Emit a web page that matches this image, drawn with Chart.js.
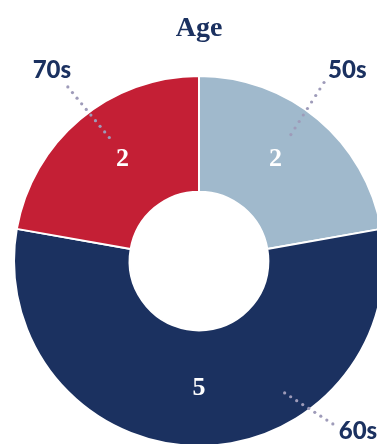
<!DOCTYPE html>
<html lang="en">
<head>
  <meta charset="UTF-8" />
  <title>Age</title>
  <style>
    html, body { margin: 0; padding: 0; background: #fff; overflow: hidden; width: 377px; height: 444px; }
    .wrap { position: absolute; left: 0; top: 0; width: 398px; height: 460px; }
  </style>
</head>
<body>
  <div class="wrap"><canvas id="ageChart"></canvas></div>

  <script src="https://cdn.jsdelivr.net/npm/chart.js@4.4.1/dist/chart.umd.min.js"></script>
  <script>
    const categories = ['50s', '60s', '70s'];
    const counts = [2, 5, 2];
    const sliceColors = ['#a0b9cc', '#1b3160', '#c41f35'];

    // callout leader lines: [angle in degrees from top, radius as share of outer radius]
    const calloutStart = [[36, 0.845], [147, 0.85], [324, 0.825]];
    const calloutEnd = [[35, 1.178], [140.6, 1.14], [323, 1.178]];
    const calloutLabel = [[37.9, 1.305], [137, 1.26], [322.4, 1.303]];
    // small angular nudge of the value inside each slice, degrees
    const valueNudge = [-3, 0, 3];

    const navy = '#1b3160';
    const dotColor = '#9e9bb9';

    function polar(cx, cy, deg, r) {
      const a = deg * Math.PI / 180;
      return { x: cx + r * Math.sin(a), y: cy - r * Math.cos(a) };
    }

    const labelsPlugin = {
      id: 'ageLabels',
      afterDraw(chart) {
        const ctx = chart.ctx;
        const arcs = chart.getDatasetMeta(0).data;
        ctx.save();
        ctx.textAlign = 'center';
        ctx.textBaseline = 'middle';
        arcs.forEach((arc, i) => {
          const R = arc.outerRadius;

          // value inside the ring
          const mid = ((arc.startAngle + arc.endAngle) / 2) * 180 / Math.PI + 90 + valueNudge[i];
          const c = polar(arc.x, arc.y, mid, (arc.innerRadius + R) / 2);
          ctx.fillStyle = '#fff';
          ctx.font = 'bold 26px "Liberation Serif", "Times New Roman", serif';
          ctx.fillText(String(counts[i]), c.x, c.y);

          // dotted leader line
          const p1 = polar(arc.x, arc.y, calloutStart[i][0], R * calloutStart[i][1]);
          const p2 = polar(arc.x, arc.y, calloutEnd[i][0], R * calloutEnd[i][1]);
          const len = Math.hypot(p2.x - p1.x, p2.y - p1.y);
          const n = Math.round(len / 7.3);
          ctx.fillStyle = dotColor;
          for (let k = 0; k <= n; k++) {
            const t = k / n;
            ctx.beginPath();
            ctx.arc(p1.x + (p2.x - p1.x) * t, p1.y + (p2.y - p1.y) * t, 1.6, 0, Math.PI * 2);
            ctx.fill();
          }

          // category name
          const pl = polar(arc.x, arc.y, calloutLabel[i][0], R * calloutLabel[i][1]);
          ctx.fillStyle = navy;
          ctx.font = '900 24px Lato, "Open Sans", sans-serif';
          ctx.fillText(categories[i], pl.x, pl.y);
        });
        ctx.restore();
      }
    };

    new Chart(document.getElementById('ageChart'), {
      type: 'doughnut',
      data: {
        labels: categories,
        datasets: [{
          data: counts,
          backgroundColor: sliceColors,
          borderColor: '#fff',
          borderWidth: 2,
          hoverOffset: 0
        }]
      },
      options: {
        responsive: true,
        maintainAspectRatio: false,
        animation: false,
        cutout: '37.5%',
        layout: { padding: { left: 13, right: 13, top: 0, bottom: 13 } },
        plugins: {
          legend: { display: false },
          tooltip: { enabled: false },
          title: {
            display: true,
            text: 'Age',
            color: navy,
            font: { family: '"Liberation Serif", "Times New Roman", serif', size: 28, weight: 'bold', lineHeight: 1.2 },
            padding: { top: 12, bottom: 29.4 }
          }
        }
      },
      plugins: [labelsPlugin]
    });
  </script>
</body>
</html>
